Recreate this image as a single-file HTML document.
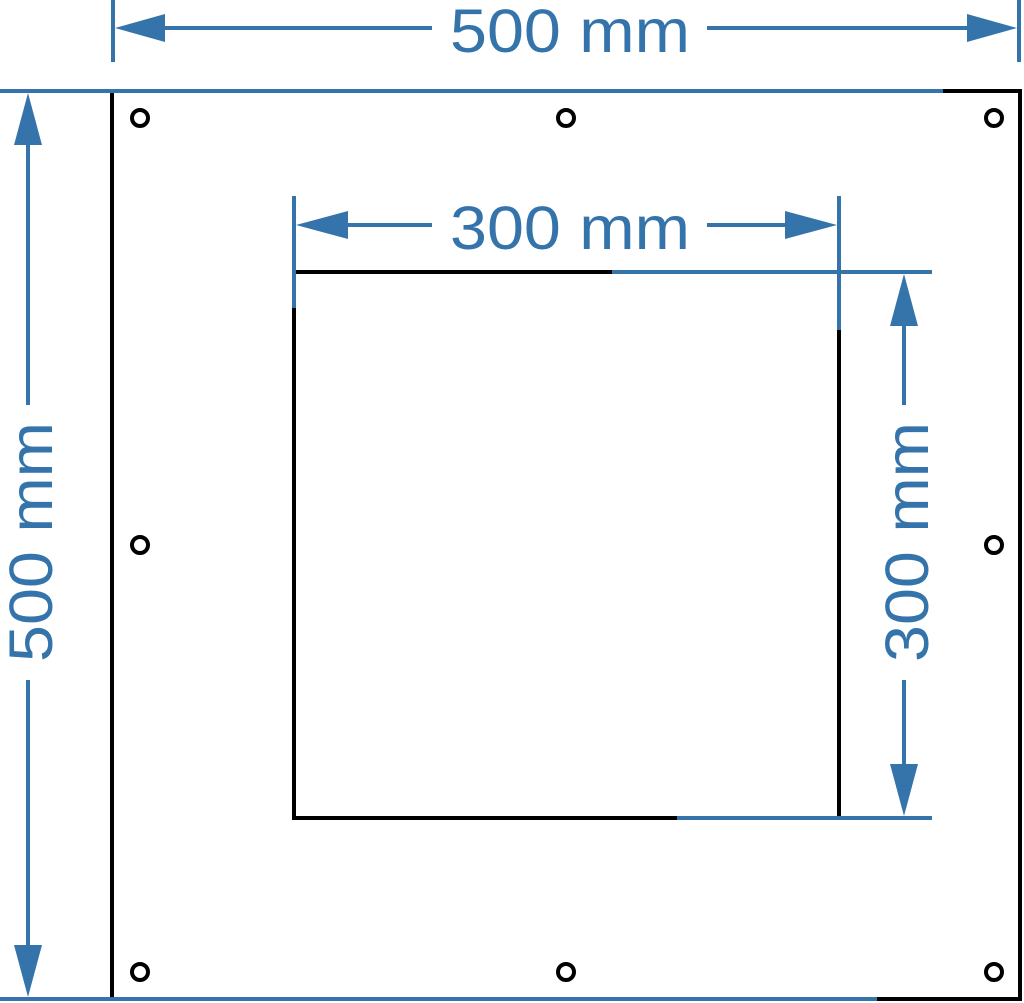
<!DOCTYPE html>
<html><head><style>html,body{margin:0;padding:0;background:#fff;}svg{display:block}</style></head>
<body>
<svg width="1024" height="1003" viewBox="0 0 1024 1003" xmlns="http://www.w3.org/2000/svg">
<g stroke="#000" stroke-width="4" fill="none">
<line x1="112" y1="90" x2="112" y2="1001"/>
<line x1="1020" y1="90" x2="1020" y2="1001"/>
<line x1="941" y1="91" x2="1022" y2="91"/>
<line x1="875" y1="999" x2="1022" y2="999"/>
<line x1="294" y1="306" x2="294" y2="820"/>
<line x1="292" y1="272" x2="614" y2="272"/>
<line x1="839" y1="328" x2="839" y2="818"/>
<line x1="292" y1="818" x2="679" y2="818"/>
</g>
<g stroke="#000" stroke-width="4" fill="none">
<circle cx="140" cy="118" r="8"/><circle cx="566" cy="118" r="8"/><circle cx="994" cy="118" r="8"/>
<circle cx="140" cy="545" r="8"/><circle cx="994" cy="545" r="8"/>
<circle cx="140" cy="972" r="8"/><circle cx="566" cy="972" r="8"/><circle cx="994" cy="972" r="8"/>
</g>
<g stroke="#3474ab" stroke-width="4" fill="none">
<line x1="0" y1="91" x2="943" y2="91"/>
<line x1="0" y1="999" x2="877" y2="999"/>
<line x1="113" y1="0" x2="113" y2="62"/>
<line x1="1019" y1="0" x2="1019" y2="62"/>
<line x1="160" y1="28" x2="432" y2="28"/>
<line x1="707" y1="28" x2="972" y2="28"/>
<line x1="28" y1="140" x2="28" y2="405"/>
<line x1="28" y1="680" x2="28" y2="950"/>
<line x1="612" y1="272" x2="932" y2="272"/>
<line x1="677" y1="818" x2="932" y2="818"/>
<line x1="294" y1="196" x2="294" y2="308"/>
<line x1="839" y1="196" x2="839" y2="330"/>
<line x1="345" y1="225" x2="432" y2="225"/>
<line x1="707" y1="225" x2="790" y2="225"/>
<line x1="904" y1="320" x2="904" y2="405"/>
<line x1="904" y1="680" x2="904" y2="770"/>
</g>
<g fill="#3474ab">
<polygon points="115,28 165,14 165,42"/>
<polygon points="1017,28 967,14 967,42"/>
<polygon points="28,93 14,145 42,145"/>
<polygon points="28,997 14,945 42,945"/>
<polygon points="296,225 348,211 348,239"/>
<polygon points="837,225 785,211 785,239"/>
<polygon points="904,274 890,326 918,326"/>
<polygon points="904,816 890,764 918,764"/>
</g>
<g fill="#3474ab" font-family="Liberation Sans, sans-serif" font-size="61" text-anchor="middle">
<text x="570" y="52" textLength="240" lengthAdjust="spacingAndGlyphs">500 mm</text>
<text x="570" y="249" textLength="240" lengthAdjust="spacingAndGlyphs">300 mm</text>
<text transform="translate(52,542) rotate(-90)" textLength="240" lengthAdjust="spacingAndGlyphs">500 mm</text>
<text transform="translate(928,542) rotate(-90)" textLength="240" lengthAdjust="spacingAndGlyphs">300 mm</text>
</g>
</svg>
</body></html>
